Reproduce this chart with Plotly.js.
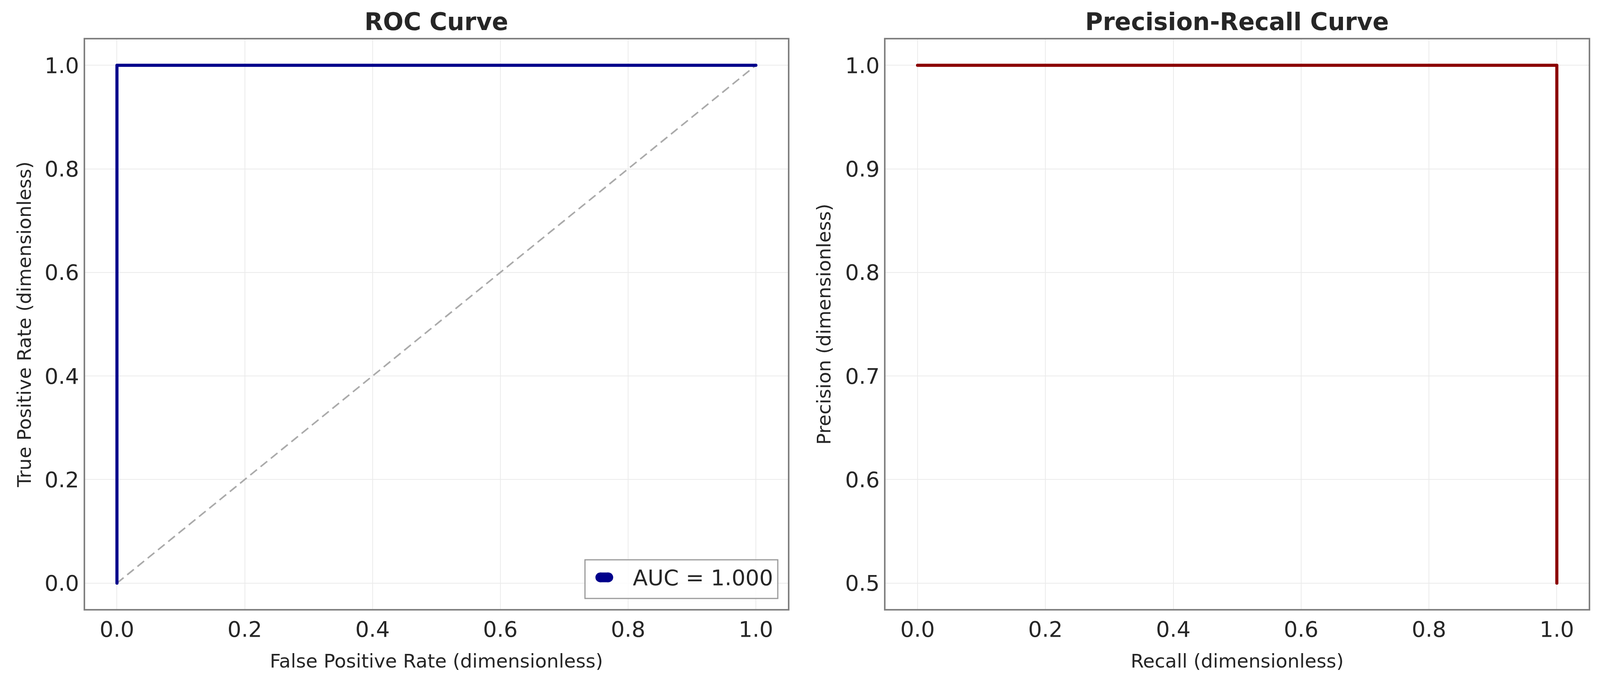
<!DOCTYPE html>
<html>
<head>
<meta charset="utf-8">
<script src="https://cdn.plot.ly/plotly-3.0.1.min.js"></script>
<style>
  html, body { margin: 0; padding: 0; background: #ffffff; overflow: hidden; }
  #chart { position: absolute; left: 0; top: 0; }
</style>
</head>
<body>
<div id="chart"></div>
<script>
// ---- data ----
const rocFpr = [0.0, 0.0, 1.0];
const rocTpr = [0.0, 1.0, 1.0];
const chanceX = [0.0, 1.0];
const chanceY = [0.0, 1.0];
const prRecall = [0.0, 1.0, 1.0];
const prPrecision = [1.0, 1.0, 0.5];
const aucLabel = "AUC = 1.000";
const rocTicks = [0.0, 0.2, 0.4, 0.6, 0.8, 1.0];
const prYTicks = [0.5, 0.6, 0.7, 0.8, 0.9, 1.0];

// ---- sizing (design size 4141 x 1747, fitted to the actual viewport) ----
const W = window.innerWidth || 4141;
const H = window.innerHeight || 1747;
const s = Math.sqrt((W / 4141) * (H / 1747));
const px = v => v / 4141;          // design px -> paper x
const py = v => 1 - v / 1747;      // design px -> paper y
const chartDiv = document.getElementById("chart");
chartDiv.style.width = W + "px";
chartDiv.style.height = H + "px";

const textColor = "#262626";
const fontFam = "DejaVu Sans, Arial, sans-serif";
const navy = "#00008B";
const darkred = "#8B0000";

const traces = [
  { x: chanceX, y: chanceY, xaxis: "x", yaxis: "y", mode: "lines",
    line: { color: "#aaaaaa", width: 4 * s, dash: (22 * s) + "px," + (12 * s) + "px" },
    showlegend: false, hoverinfo: "skip" },
  { x: rocFpr, y: rocTpr, xaxis: "x", yaxis: "y", mode: "lines", name: aucLabel,
    line: { color: navy, width: 8 * s }, showlegend: false },
  { x: prRecall, y: prPrecision, xaxis: "x2", yaxis: "y2", mode: "lines",
    line: { color: darkred, width: 8 * s }, showlegend: false }
];

function axisBase(extra) {
  return Object.assign({
    showgrid: true, gridcolor: "#ebebeb", gridwidth: 2 * s,
    zeroline: false, showline: true, mirror: true,
    linecolor: "#808080", linewidth: 4 * s,
    ticks: "", ticklabelstandoff: 22 * s,
    tickfont: { family: fontFam, size: 56 * s, color: textColor },
    tickformat: ".1f"
  }, extra);
}
const titleFont = { family: fontFam, size: 49 * s, color: textColor };

// legend box geometry (design px)
const lg = { x0: 1514, x1: 2013, y0: 1434, y1: 1533, pillL: 1541, pillR: 1587, pillY: 1479, pillH: 25, textX: 1636 };
const r = lg.pillH / 2;

const layout = {
  width: W, height: H,
  margin: { l: 0, r: 0, t: 0, b: 0 },
  paper_bgcolor: "#ffffff", plot_bgcolor: "#ffffff",
  font: { family: fontFam, color: textColor },
  showlegend: false,
  xaxis: axisBase({
    domain: [px(220), px(2039)], range: [-0.05, 1.05], anchor: "y",
    tickvals: rocTicks,
    title: { text: "False Positive Rate (dimensionless)", standoff: 34 * s, font: titleFont }
  }),
  yaxis: axisBase({
    domain: [py(1560), py(101)], range: [-0.05, 1.05], anchor: "x",
    tickvals: rocTicks,
    title: { text: "True Positive Rate (dimensionless)", standoff: 20 * s, font: titleFont }
  }),
  xaxis2: axisBase({
    domain: [px(2292), px(4112)], range: [-0.05, 1.05], anchor: "y2",
    tickvals: rocTicks,
    title: { text: "Recall (dimensionless)", standoff: 34 * s, font: titleFont }
  }),
  yaxis2: axisBase({
    domain: [py(1560), py(101)], range: [0.475, 1.025], anchor: "x2",
    tickvals: prYTicks,
    title: { text: "Precision (dimensionless)", standoff: 22 * s, font: titleFont }
  }),
  shapes: [
    // legend frame
    { type: "rect", xref: "paper", yref: "paper", layer: "above",
      x0: px(lg.x0), x1: px(lg.x1), y0: py(lg.y1), y1: py(lg.y0),
      fillcolor: "rgba(255,255,255,0.85)", line: { color: "#9a9a9a", width: 3 * s } },
    // legend pill (line sample for the AUC entry)
    { type: "rect", xref: "paper", yref: "paper", layer: "above",
      x0: px(lg.pillL + r), x1: px(lg.pillR - r), y0: py(lg.pillY + r), y1: py(lg.pillY - r),
      fillcolor: navy, line: { width: 0 } },
    { type: "circle", xref: "paper", yref: "paper", layer: "above",
      x0: px(lg.pillL), x1: px(lg.pillL + 2 * r), y0: py(lg.pillY + r), y1: py(lg.pillY - r),
      fillcolor: navy, line: { width: 0 } },
    { type: "circle", xref: "paper", yref: "paper", layer: "above",
      x0: px(lg.pillR - 2 * r), x1: px(lg.pillR), y0: py(lg.pillY + r), y1: py(lg.pillY - r),
      fillcolor: navy, line: { width: 0 } }
  ],
  annotations: [
    { text: "<b>ROC Curve</b>", xref: "paper", yref: "paper",
      x: px((220 + 2039) / 2), y: py(56), xanchor: "center", yanchor: "middle",
      showarrow: false, font: { family: fontFam, size: 62 * s, color: textColor } },
    { text: "<b>Precision-Recall Curve</b>", xref: "paper", yref: "paper",
      x: px((2292 + 4112) / 2), y: py(56), xanchor: "center", yanchor: "middle",
      showarrow: false, font: { family: fontFam, size: 62 * s, color: textColor } },
    { text: aucLabel, xref: "paper", yref: "paper",
      x: px(lg.textX), y: py(lg.pillY), xanchor: "left", yanchor: "middle",
      showarrow: false, font: { family: fontFam, size: 56 * s, color: textColor } }
  ]
};

Plotly.newPlot(chartDiv, traces, layout, { displayModeBar: false, staticPlot: true }).then(() => {
  // round caps on the solid curves (matplotlib-like ends); dashed chance line keeps butt caps
  const lines = chartDiv.querySelectorAll(".scatterlayer .trace path.js-line");
  lines.forEach((p, i) => { if (i > 0) { p.style.strokeLinecap = "round"; p.style.strokeLinejoin = "round"; } });
});
</script>
</body>
</html>
